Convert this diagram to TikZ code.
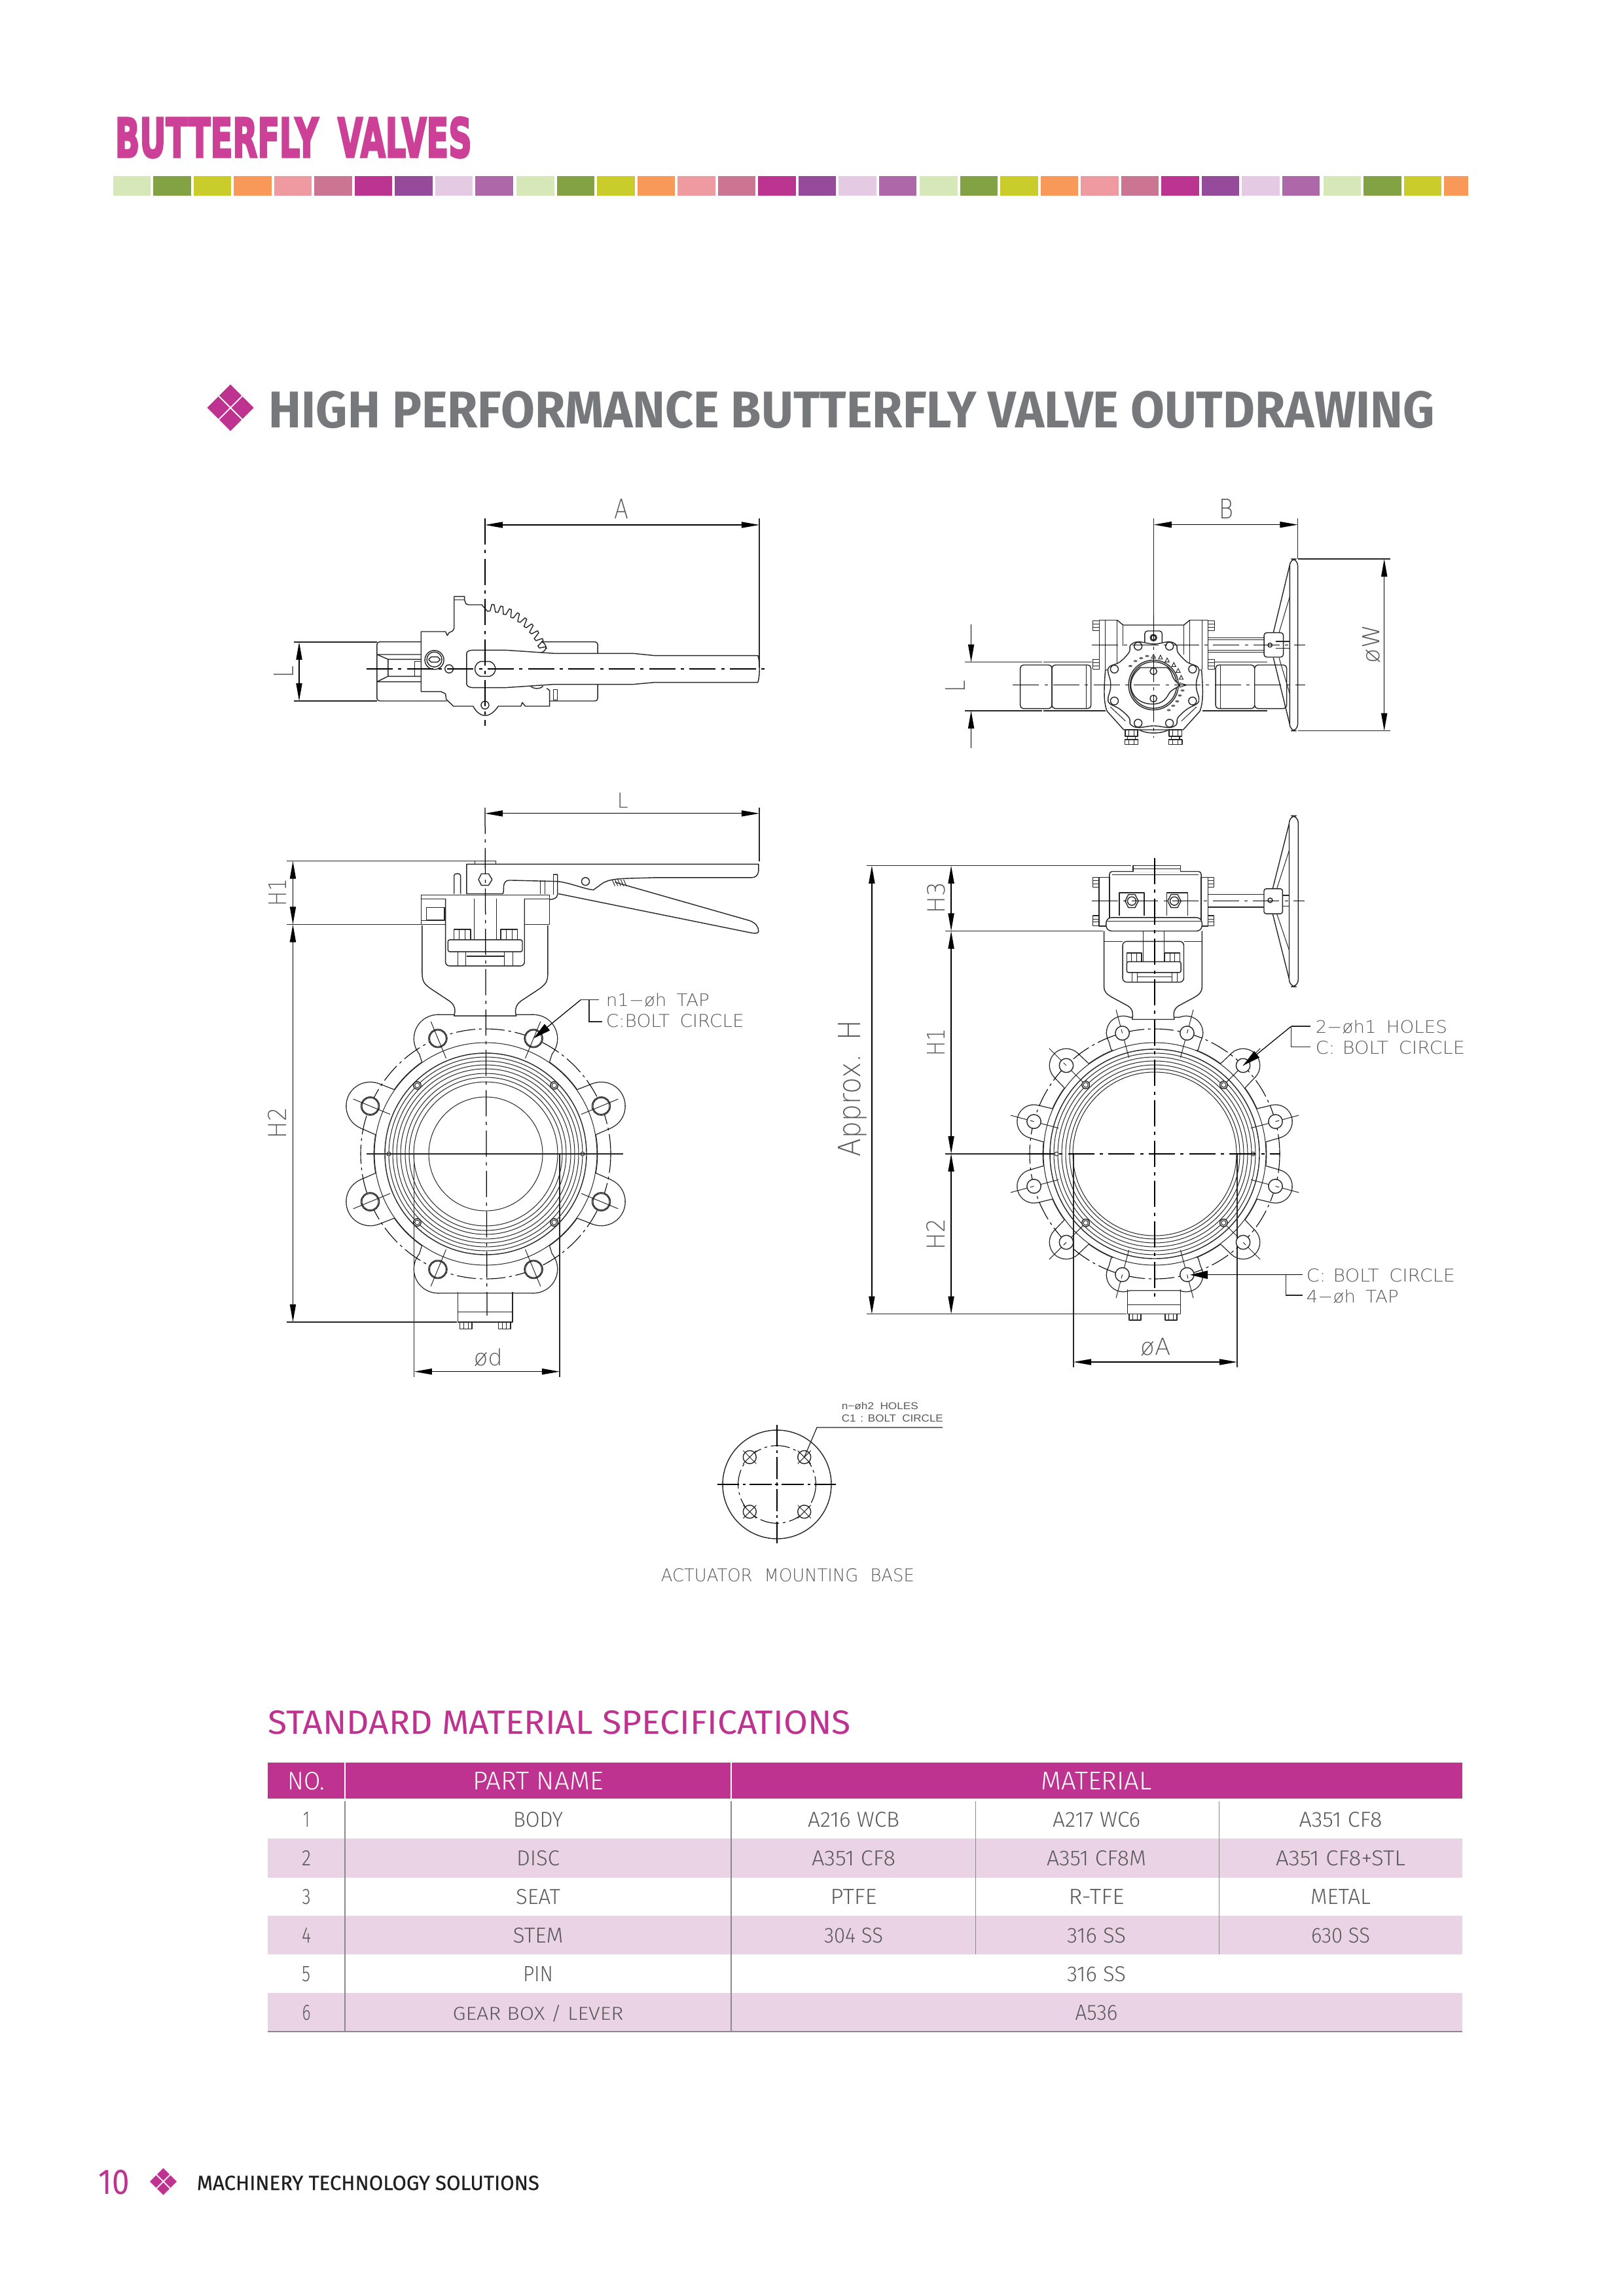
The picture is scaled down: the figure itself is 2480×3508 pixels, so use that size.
\documentclass[tikz,border=0pt]{standalone}
\usepackage{fontspec}
\usepackage{graphicx}
\usetikzlibrary{arrows.meta}
\IfFontExistsTF{DejaVu Sans ExtraLight}{\newfontfamily\cadf{DejaVu Sans ExtraLight}}{\newfontfamily\cadf{Liberation Sans}}
\IfFontExistsTF{Fira Sans Light}{\newfontfamily\tabf{Fira Sans Light}}{\newfontfamily\tabf{Fira Sans}}
\newfontfamily\dinf{Fira Sans}
\newfontfamily\dinm[FakeBold=0.5]{Fira Sans}
\newfontfamily\impf[FakeBold=4]{DejaVu Sans Bold}
\newfontfamily\smallf{Liberation Sans}
\newlength{\pxu}\setlength{\pxu}{0.24pt}
\newcommand{\fitbox}[3]{\resizebox{#1\pxu}{#2\pxu}{#3}}
\definecolor{magB}{HTML}{BF3390}
\definecolor{magT}{HTML}{CC4097}
\definecolor{pinkR}{HTML}{EBD3E6}
\definecolor{headG}{HTML}{77787B}
\definecolor{cadG}{HTML}{58595B}
\definecolor{tabG}{HTML}{58595B}
\definecolor{ruleG}{HTML}{8A8A8D}
\definecolor{lineK}{HTML}{262626}
\definecolor{c0}{HTML}{D6E7B8}\definecolor{c1}{HTML}{82A244}\definecolor{c2}{HTML}{C9CC2B}
\definecolor{c3}{HTML}{F8995A}\definecolor{c4}{HTML}{EE9AA0}\definecolor{c5}{HTML}{CC7592}
\definecolor{c6}{HTML}{BB3490}\definecolor{c7}{HTML}{964A9A}\definecolor{c8}{HTML}{E4CAE2}\definecolor{c9}{HTML}{AE67A9}
\tikzset{
 lnm/.style={line width=.34pt,draw=lineK,line join=round},
 lnt/.style={line width=.24pt,draw=lineK},
 wfill/.style={lnm,fill=white},
 cline/.style={line width=.3pt,draw=black,dash pattern=on 9.6pt off 2pt on 1.2pt off 2pt},
 bcirc/.style={line width=.26pt,draw=black,dash pattern=on 7pt off 1.4pt on 1pt off 1.4pt},
 dimln/.style={line width=.3pt,draw=black,fill=black,<->,>={Triangle[length=6.5pt,width=2.2pt]}},
 onearr/.style={line width=.3pt,draw=black,->,>={Triangle[length=6.5pt,width=2.2pt]}},
 leadarr/.style={line width=.3pt,draw=black,->,>={Triangle[length=6.5pt,width=3pt]}},
 extln/.style={line width=.3pt,draw=lineK},
 cad/.style={inner sep=0pt,text=cadG,anchor=base west},
 cadr/.style={inner sep=0pt,text=cadG,anchor=base west,rotate=90},
 tabt/.style={inner sep=0pt,text=tabG,anchor=base},
 strokeU/.style={draw=lineK,line width=.64pt},
 fillU/.style={fill=white},
}
\newcommand{\hole}[3]{\draw[lnm] (#1,#2) circle[x radius=#3*\sx,y radius=#3*\sy];}
\newcommand{\diamonds}[4]{%
 \foreach \dx/\dy in {0/-1,1/0,0/1,-1/0}{%
  \fill[#4] ({#1+\dx*#3},{#2+\dy*#3}) +(0,{-#3+1.5}) -- +({#3-1.5},0) -- +(0,{#3-1.5}) -- +({-#3+1.5},0) -- cycle;}}
\begin{document}
\begin{tikzpicture}[x=0.24pt,y=-0.24pt]
\useasboundingbox (0,0) rectangle (2480,3508);
\fill[white] (0,0) rectangle (2480,3508);

%% ===== page header
\node[inner sep=0pt,anchor=base west,text=magT] (title) at (175,240) {\fitbox{545}{61}{\impf BUTTERFLY\hspace{.6em}VALVES}};
\foreach \g/\gx/\nn in {0/172.7/9,1/789/9,2/1405.3/9}{
 \foreach \i in {0,...,\nn}{\fill[c\i] ({\gx+\i*61.5},269) rectangle ++(57.5,30);}}
\foreach \i in {0,1,2}{\fill[c\i] ({2021.6+\i*61.5},269) rectangle ++(57.5,30);}
\fill[c3] (2206,269) rectangle (2243,299);
\diamonds{352}{623}{18.5}{magB}
\node[inner sep=0pt,anchor=base west,text=headG] (heading) at (410,654) {\fitbox{1781}{56}{\dinf\bfseries HIGH PERFORMANCE BUTTERFLY VALVE OUTDRAWING}};

%% ===== lever view, top left
\begin{scope}[shift={(380,740)},xscale=.5485,yscale=.3333]
\def\sx{1.823}\def\sy{3}
\draw[lnm,rounded corners=1pt] (357,722) rectangle (972,993);
\draw[lnm] (357,780)--(480,780) (357,905)--(480,905) (388,802)--(480,802) (388,880)--(480,880) (388,802)--(388,880) (357,780)--(388,802) (357,905)--(388,880);
\draw[lnt] (463,812) rectangle (480,880);
\fill[white] (480,675)--(548,675)--(553,693)--(558,680)--(570,672)--(572,514)--(601,514)--(605,550)--(650,552)--(815,720)--(835,775)--(835,935)--(838,1017)--(570,1017)--(550,990)--(548,960)--(535,950)--(480,950)--cycle;
\draw[lnm] (650,552)--(612,552)--(605,548)--(601,530)--(601,514)--(572,514)--(572,530)--(572,660)--(568,672)--(558,680)--(553,693)--(548,675)--(480,675)--(480,950)--(535,950)--(548,960)--(550,985)--(570,1017)--(625,1017) .. controls (635,1050) and (650,1060) .. (658,1060) .. controls (668,1060) and (682,1050) .. (695,1017)--(758,1017)--(762,1000)--(770,1017)--(838,1017)--(838,945)--(830,935);
\draw[lnt] (572,530)--(601,530);
\draw[lnt] (848,940) rectangle (860,990);
\draw[lnm] (815,720) .. controls (832,735) and (832,760) .. (815,772);
\draw[lnm] (785,925) .. controls (795,940) and (810,940) .. (820,925);
\end{scope}
\draw[lnm] (736,924) \foreach \a in {90,82,...,26} { -- ({741+88*cos(\a-2.5)},{1022-88*sin(\a-2.5)}) -- ({741+89*cos(\a-5)},{1022-89*sin(\a-5)}) -- ({741+99*cos(\a-6)},{1022-99*sin(\a-6)}) -- ({741+99*cos(\a-8)},{1022-99*sin(\a-8)}) };
\begin{scope}[shift={(380,740)},xscale=.5485,yscale=.3333]
\def\sx{1.823}\def\sy{3}
\draw[wfill] (607,775) .. controls (607,765) and (615,760) .. (625,760) -- (715,760) -- (850,775) -- (1070,775) -- (1130,785) -- (1418,785) .. controls (1424,810) and (1424,880) .. (1418,908) -- (1130,908) -- (1070,917) -- (850,917) -- (715,932) -- (625,932) .. controls (615,932) and (607,925) .. (607,915) -- cycle;
\hole{517}{805}{14.5}\hole{517}{803}{11.5}
\draw[lnm] (508,791)--(526,791)--(533,803)--(526,815)--(508,815)--(501,803)--cycle;
\hole{558}{846}{6.3}
\draw[lnm] (645,812)--(672,812) .. controls (692,825) and (692,868) .. (672,880)--(645,880) .. controls (625,868) and (625,825) .. (645,812);
\hole{658}{1012}{6}
\end{scope}
\coordinate (aL) at (741,802); \coordinate (aR) at (1160,802);
\draw[cline] (741,792) -- (741,1109);
\draw[cline] (560,1022) -- (1176,1022);
\draw[extln] (1160,792) -- (1160,1020);
\draw[dimln] (aL) -- (aR);
\draw[extln] (449,981) -- (576,981) (449,1071) -- (576,1071);
\coordinate (lA) at (457,981); \coordinate (lB) at (457,1071);
\draw[dimln] (lA) -- (lB);
\node[cad] (labA) at (938,793) {\fitbox{22}{30}{\cadf A}};
\node[cadr] (labL1) at (448,1036) {\fitbox{18}{30}{\cadf L}};

%% ===== gear view, top right
\begin{scope}[shift={(1380,740)},xscale=.5102,yscale=.3333]
\def\sx{1.96}\def\sy{3}
% pipes
\draw[lnm] (420,815)--(565,815) (420,1038)--(605,1038);
\draw[lnm] (912,815)--(1090,815) (895,1038)--(1090,1038);
\draw[extln] (185,815)--(415,815) (185,1038)--(415,1038);
\draw[wfill,rounded corners=1.2pt] (350,828) rectangle (445,1028);
\draw[wfill,rounded corners=1.2pt] (445,828) rectangle (562,1028);
\draw[lnt] (548,828)--(548,1028);
\draw[wfill,rounded corners=1.2pt] (935,828) rectangle (1052,1028);
\draw[wfill,rounded corners=1.2pt] (1052,828) rectangle (1148,1028);
\draw[lnt] (950,828)--(950,1028);
% shaft & hub
\draw[lnm] (912,703)--(1080,703) (912,770)--(1080,770);
\draw[lnt] (912,712)--(1080,712) (912,760)--(1080,760);
\draw[wfill,rounded corners=1pt] (1080,680) rectangle (1138,792);
\hole{1098}{737}{3.2}
\draw[lnm] (1115,720)--(1157,720) (1115,752)--(1157,752);
% wheel
\draw[lnm] (1157,370)--(1108,680) (1108,795)--(1157,1100);
\draw[lnt] (1157,515)--(1125,680) (1125,795)--(1157,960);
\draw[wfill,rounded corners=2.4pt] (1157,342) rectangle (1181,1130);
% gearbox body
\draw[wfill] (605,850) .. controls (600,950) and (600,1000) .. (610,1040) -- (660,1125) -- (838,1125) -- (888,1040) .. controls (898,1000) and (898,950) .. (893,850) -- cycle;
\draw[lnt] (620,1020)--(665,1085) (878,1020)--(833,1085);
\draw[lnm] (705,1125) .. controls (730,1145) and (770,1145) .. (795,1125);
\draw[lnm] (640,622)--(658,645)--(840,645)--(858,622);
\draw[lnm] (658,645)--(658,740) (840,645)--(840,780);
\foreach \xa/\xb/\xc in {587/640/605,858/912/895}{
 \draw[wfill] (\xa,850)--(\xa,622)--(\xb,622)--(\xb,850);
 \draw[lnt] (\xc,622)--(\xc,850);}
\foreach \yy in {648,825}{
 \draw[wfill] (567,{\yy-23}) rectangle (587,{\yy+23});
 \draw[lnt] (567,{\yy-8})--(587,{\yy-8}) (567,{\yy+8})--(587,{\yy+8});
 \draw[wfill] (912,{\yy-23}) rectangle (932,{\yy+23});
 \draw[lnt] (912,{\yy-8})--(932,{\yy-8}) (912,{\yy+8})--(932,{\yy+8});}
\draw[wfill,rounded corners=1pt] (723,725)--(723,672)--(775,672)--(775,725);
\hole{749}{703}{5}\hole{749}{703}{3.5}
% face plate
\draw[wfill] plot[smooth cycle,tension=.6] coordinates {(703,722)(750,732)(797,722)(818,738)(822,770)(850,815)(880,835)(885,860)(878,900)(878,940)(885,980)(880,1005)(850,1030)(822,1070)(818,1100)(797,1115)(750,1107)(703,1115)(680,1100)(676,1070)(648,1030)(618,1005)(613,980)(620,940)(620,900)(613,860)(618,835)(648,815)(676,770)(680,738)};
\foreach \hx/\hy in {703/742,797/742,632/847,866/847,632/993,866/993,703/1095,797/1095}{\hole{\hx}{\hy}{6}}
\hole{749}{920}{38}\hole{749}{920}{35.5}
\draw[wfill] (825,915) .. controls (800,890) and (810,865) .. (790,840) -- (710,840) .. controls (660,900) and (680,990) .. (730,1005) .. controls (770,1015) and (785,990) .. (795,960) .. controls (800,945) and (815,935) .. (825,925) -- cycle;
\hole{749}{857}{5.2}\hole{749}{982}{5.2}
\foreach \tx/\ty in {749/788,770/792,790/805,810/826,823/853,832/885}{\draw[lnt] ({\tx-6},{\ty+9})--(\tx,{\ty-9})--({\tx+6},{\ty+9})--cycle;}
\draw[lnt,fill=white] (828,910)--(848,920)--(828,930)--cycle;
\foreach \tx/\ty in {680/833,695/810,712/797,730/787,836/945,828/968,820/995,808/1015,795/1035}{\fill[black!60] (\tx,\ty) circle[x radius=6,y radius=5];}
% bottom bolts
\foreach \bx in {683,815}{
 \draw[wfill] ({\bx-19},1125) rectangle ({\bx+19},1155);
 \draw[wfill] ({\bx-12},1155) rectangle ({\bx+12},1170);
 \draw[wfill] ({\bx-20},1170) rectangle ({\bx+20},1192);
 \draw[lnt] ({\bx-8},1170)--({\bx-8},1192) ({\bx+8},1170)--({\bx+8},1192) ({\bx-8},1125)--({\bx-8},1155) ({\bx+8},1125)--({\bx+8},1155);}
% centre lines
\draw[cline] (565,736)--(1203,736);
\draw[cline] (328,920)--(1203,920);
\draw[extln] (750,155)--(750,600);
\draw[cline] (750,600)--(750,1160);
\draw[extln] (1181,155)--(1181,342);
\draw[extln] (1181,342)--(1458,342) (1181,1130)--(1458,1130);
\coordinate (gwA) at (1440,342);\coordinate (gwB) at (1440,1130);
\coordinate (gbL) at (750,185);\coordinate (gbR) at (1181,185);
\coordinate (glA0) at (203,643);\coordinate (glA1) at (203,815);\coordinate (glB0) at (203,1210);\coordinate (glB1) at (203,1038);
\end{scope}
\draw[dimln] (gbL)--(gbR);
\draw[dimln] (gwA)--(gwB);
\draw[onearr] (glA0)--(glA1);
\draw[onearr] (glB0)--(glB1);
\node[cad] (labB) at (1862,793) {\fitbox{22}{30}{\cadf B}};
\node[cadr] (labW) at (2107,1014) {\fitbox{58}{26}{\cadf øW}};
\node[cadr] (labL2) at (1474,1058) {\fitbox{18}{30}{\cadf L}};

%% ===== lower left valve
\begin{scope}[shift={(742,1763)}]
\foreach \st in {strokeU,fillU}{
 \path[\st] (0,0) circle (170);
 \foreach \a in {22.5,-22.5,157.5,-157.5}{
  \begin{scope}[rotate=\a]
  \path[\st] (191,0) circle (36);
  \path[\st] (150,37)--(191,36)--(191,-36)--(150,-37)--cycle;
  \end{scope}}
 \foreach \s in {1,-1}{
  \path[\st] (73,{\s*176}) circle (36);
  \path[\st] (-73,{\s*176}) circle (36);
  \path[\st] (-73,{\s*212})--(73,{\s*212})--(108,{\s*176})--(96,{\s*138})--(0,{\s*100})--(-96,{\s*138})--(-108,{\s*176})--cycle;}
}
\draw[lnt] (0,0) circle (170);
\end{scope}
\begin{scope}[shift={(380,1200)},xscale=.5485,yscale=.5869]
\def\sx{1.823}\def\sy{1.704}
% neck and yoke
\draw[wfill] (483,365)--(483,490) .. controls (483,515) and (495,520) .. (505,528) -- (560,562) .. controls (578,575) and (575,590) .. (572,600) -- (745,600) .. controls (742,590) and (740,575) .. (757,562) -- (812,528) .. controls (822,520) and (833,515) .. (833,490) -- (833,365);
\draw[wfill] (480,285) rectangle (838,362);
\draw[lnt] (480,295)--(838,295) (480,352)--(548,352);
\draw[wfill] (495,318) rectangle (545,350);
\draw[wfill,rounded corners=1.5pt] (548,295)--(548,470)--(768,470)--(768,295);
\draw[lnt] (628,295)--(628,402) (690,295)--(690,402);
\foreach \bx in {595,725}{
 \draw[wfill] ({\bx-23},375) rectangle ({\bx+23},402);
 \draw[lnt] ({\bx-8},375)--({\bx-8},402) ({\bx+8},375)--({\bx+8},402);}
\draw[wfill,rounded corners=.6pt] (555,402) rectangle (762,433);
\draw[lnt] (582,433)--(582,468) (605,433)--(605,468) (712,433)--(712,468) (735,433)--(735,468);
\draw[lnm] (608,445)--(712,445);
% lever
\draw[lnm,rounded corners=.8pt] (572,282)--(572,240) .. controls (572,228) and (590,228) .. (590,240) -- (590,282);
\draw[wfill] (607,282)--(607,205)--(1420,205)--(1420,222) .. controls (1418,235) and (1412,240) .. (1400,240) -- (1130,240) .. controls (1050,243) and (1010,240) .. (985,255) -- (960,272) .. controls (935,270) and (900,255) .. (862,250) -- (730,247) .. controls (722,247) and (716,247) .. (712,255) .. controls (708,262) and (712,270) .. (708,282) -- cycle;
\draw[lnm] (862,282) -- (1395,383) .. controls (1408,386) and (1420,386) .. (1420,380) .. controls (1420,368) and (1412,358) .. (1395,352) -- (1020,252);
\draw[lnm] (848,232)--(860,232)--(860,285) .. controls (858,293) and (850,297) .. (838,297);
\draw[lnt] (848,232)--(848,285);
\draw[lnt] (812,247)--(812,282) (825,247)--(825,282);
\draw[lnm] (640,245)--(648,230)--(668,230)--(678,245)--(668,260)--(648,260)--cycle;
\draw[lnt] (630,205)--(630,197)--(688,197)--(688,205) (630,197)--(625,197);
\hole{938}{250}{6}
\foreach \tt in {0,1,2,3,4}{\draw[lnt] ({1012+\tt*8},245)--({1020+\tt*8},262);}
% bottom block
\draw[lnm] (582,1318)--(582,1397)--(735,1397)--(735,1318);
\draw[lnt] (582,1370)--(735,1370);
\foreach \bx in {605,712}{\draw[wfill] ({\bx-17},1397) rectangle ({\bx+17},1415);
 \draw[lnt] ({\bx-6},1397)--({\bx-6},1415) ({\bx+6},1397)--({\bx+6},1415);}
\end{scope}
\begin{scope}[shift={(742,1763)}]
\draw[bcirc] (0,0) circle (191);
\draw[lnm] (0,0) circle (154);
\foreach \r in {148,142,136,130,123,117,110}{\draw[lnt] (0,0) circle (\r);}
\draw[lnt] (0,0) circle (87);
\foreach \a in {22.5,67.5,112.5,157.5,202.5,247.5,292.5,337.5}{
 \draw[lnm,fill=white] ({191*cos(\a)},{191*sin(\a)}) circle (14);
 \draw[lnt] ({191*cos(\a)},{191*sin(\a)}) circle (12.5);
 \draw[lnt] ({158*cos(\a)},{158*sin(\a)})--({219*cos(\a)},{219*sin(\a)});}
\foreach \a in {45,135,225,315}{
 \draw[lnm,fill=white] ({148*cos(\a)},{148*sin(\a)}) circle (5.8);
 \draw[lnt] ({148*cos(\a)},{148*sin(\a)}) circle (3.6);}
\foreach \a in {0,180}{\draw[lnt,fill=white] ({148*cos(\a)},{148*sin(\a)}) circle (3);}
\coordinate (holeTR) at ({191*cos(67.5)},{-191*sin(67.5)});
\end{scope}
\draw[extln] (560,1763)--(952,1763);
\draw[cline] (741,1234)--(744,2010);
% dims lower left
\begin{scope}[shift={(380,1200)},xscale=.5485,yscale=.5869]
\coordinate (ldA) at (123,197);\coordinate (ldB) at (123,362);\coordinate (ldC) at (123,1397);
\coordinate (llA) at (658,73);\coordinate (llB) at (1422,73);
\coordinate (ddA) at (461,1526);\coordinate (ddB) at (866,1526);
\coordinate (ldr1) at (925,558);\coordinate (ldr2) at (975,558);\coordinate (ldr3) at (948,558);\coordinate (ldr4) at (948,615);\coordinate (ldr5) at (985,615);
\draw[extln] (105,197)--(625,197) (105,362)--(480,362) (105,1397)--(580,1397);
\draw[extln] (1422,58)--(1422,197);
\draw[extln] (461,960)--(461,1540) (866,960)--(866,1540);
\end{scope}
\draw[dimln] (ldA)--(ldB);
\draw[dimln] (ldB)--(ldC);
\draw[dimln] (llA)--(llB);
\draw[dimln] (ddA)--(ddB);
\draw[leadarr] (ldr1)--(holeTR);
\draw[extln] (ldr1)--(ldr2) (ldr3)--(ldr4)--(ldr5);
\node[cadr] (labH1a) at (437,1385) {\fitbox{41}{27}{\cadf H1}};
\node[cadr] (labH2a) at (437,1740) {\fitbox{47}{28}{\cadf H2}};
\node[cad] (labL3) at (942,1234) {\fitbox{17}{23}{\cadf L}};
\node[cad] (labd) at (723,2086) {\fitbox{44}{26}{\cadf ød}};
\node[cad] (labn1) at (925,1537) {\fitbox{158}{20}{\cadf n1−øh\hspace{.55em}TAP}};
\node[cad] (labc1) at (925,1569) {\fitbox{211}{20}{\cadf C:BOLT\hspace{.55em}CIRCLE}};

%% ===== lower right valve
\begin{scope}[shift={(1764,1763)}]
\foreach \st in {strokeU,fillU}{
 \path[\st] (0,0) circle (170);
 \foreach \a in {15,45,135,165,195,225,315,345}{
  \begin{scope}[rotate=\a]
  \path[\st] (191,0) circle (25);
  \path[\st] (150,26)--(191,25)--(191,-25)--(150,-26)--cycle;
  \end{scope}}
 \foreach \s in {1,-1}{
  \path[\st] (48,{\s*185}) circle (25);
  \path[\st] (-48,{\s*185}) circle (25);
  \path[\st] (-48,{\s*208})--(48,{\s*208})--(73,{\s*185})--(66,{\s*160})--(0,{\s*120})--(-66,{\s*160})--(-73,{\s*185})--cycle;}
}
\draw[lnt] (0,0) circle (170);
\end{scope}
\begin{scope}[shift={(1270,1220)},xscale=.6313,yscale=.5869]
\def\sx{1.584}\def\sy{1.704}
% neck
\draw[wfill] (660,345)--(660,490) .. controls (660,505) and (668,510) .. (680,518) -- (718,540) .. controls (732,550) and (730,565) .. (728,575) -- (830,575) .. controls (828,565) and (826,550) .. (840,540) -- (878,518) .. controls (890,510) and (897,505) .. (897,490) -- (897,345);
\draw[lnt] (660,372)--(705,372) (853,372)--(897,372);
\draw[wfill,rounded corners=1.5pt] (705,372)--(705,478)--(853,478)--(853,372)--cycle;
\draw[lnt] (755,345)--(755,425) (805,345)--(805,425);
\foreach \bx in {733,825}{
 \draw[wfill] ({\bx-18},402) rectangle ({\bx+18},425);
 \draw[lnt] ({\bx-6},402)--({\bx-6},425) ({\bx+6},402)--({\bx+6},425);}
\draw[wfill,rounded corners=.6pt] (715,425) rectangle (846,453);
\draw[lnt] (728,453)--(728,478) (740,453)--(740,478) (825,453)--(825,478) (837,453)--(837,478) (740,465)--(825,465);
% gearbox
\draw[wfill,rounded corners=1pt] (673,310)--(673,190)--(895,190)--(895,310);
\draw[lnt] (680,198)--(888,198);
\draw[wfill] (730,190)--(730,175)--(845,175)--(845,190);
\draw[lnt] (730,183)--(845,183);
\draw[wfill] (648,205) rectangle (673,332);
\draw[wfill] (895,205) rectangle (912,332);
\foreach \yy in {218,318}{
 \draw[wfill] (633,{\yy-13}) rectangle (648,{\yy+13});
 \draw[wfill] (912,{\yy-13}) rectangle (926,{\yy+13});
 \draw[lnt] (633,{\yy-4})--(648,{\yy-4}) (633,{\yy+4})--(648,{\yy+4}) (912,{\yy-4})--(926,{\yy-4}) (912,{\yy+4})--(926,{\yy+4});}
\draw[wfill,rounded corners=2pt] (665,345)--(665,310)--(897,310)--(897,345)--cycle;
\draw[lnt] (665,320)--(897,320);
\draw[lnm] (697,305)--(697,245)--(757,245)--(757,305) (812,305)--(812,245)--(862,245)--(862,305);
\foreach \bx in {727,830}{
 \draw[lnm] ({\bx-16},267)--({\bx-8},250)--({\bx+8},250)--({\bx+16},267)--({\bx+8},284)--({\bx-8},284)--cycle;
 \hole{\bx}{267}{6.5}}
% shaft, hub, wheel
\draw[lnm] (912,250)--(1047,250) (912,283)--(1047,283);
\draw[wfill,rounded corners=.8pt] (1047,235) rectangle (1092,300);
\hole{1062}{265}{3.5}
\draw[lnm] (1092,252)--(1110,252) (1092,280)--(1110,280);
\draw[lnm] (1108,65)--(1068,235) (1068,300)--(1108,470);
\draw[lnt] (1108,135)--(1078,235) (1078,300)--(1108,395);
\draw[wfill,rounded corners=2.6pt] (1108,45) rectangle (1130,490);
% bottom
\draw[lnm] (717,1278)--(717,1342)--(845,1342)--(845,1278);
\draw[lnt] (717,1318)--(845,1318);
\foreach \bx in {735,822}{\draw[wfill] ({\bx-14},1342) rectangle ({\bx+14},1358);
 \draw[lnt] ({\bx-5},1342)--({\bx-5},1358) ({\bx+5},1342)--({\bx+5},1358);}
\draw[cline] (630,267)--(1145,267);
% coordinates
\coordinate (rhA) at (98,175);\coordinate (rhB) at (98,1342);
\coordinate (r3A) at (290,175);\coordinate (r3B) at (290,345);\coordinate (r3C) at (290,925);\coordinate (r3D) at (290,1342);
\coordinate (raA) at (586,1467);\coordinate (raB) at (982,1467);
\coordinate (lp1) at (1113,593);\coordinate (lp2) at (1160,593);\coordinate (lp3) at (1113,647);\coordinate (lp4) at (1160,647);
\coordinate (lq0) at (868,1240);\coordinate (lq1) at (1140,1240);\coordinate (lq2) at (1100,1240);\coordinate (lq3) at (1100,1293);\coordinate (lq4) at (1140,1293);
\draw[extln] (85,175)--(725,175) (275,345)--(658,345) (85,1342)--(715,1342);
\draw[extln] (586,925)--(586,1480) (982,925)--(982,1480);
\end{scope}
\begin{scope}[shift={(1764,1763)}]
\draw[bcirc] (0,0) circle (191);
\draw[lnm] (0,0) circle (160);
\foreach \r in {154,148,142,136,130}{\draw[lnt] (0,0) circle (\r);}
\draw[lnt] (0,0) circle (125);
\foreach \a in {15,45,75,105,135,165,195,225,255,285,315,345}{
 \draw[lnt] ({152*cos(\a)},{152*sin(\a)})--({228*cos(\a)},{228*sin(\a)});
 \draw[lnm,fill=white] ({191*cos(\a)},{191*sin(\a)}) circle (10.7);
 \draw[lnt] ({191*cos(\a)},{191*sin(\a)})--({197*cos(\a)},{197*sin(\a)});}
\foreach \a in {45,135,225,315}{
 \draw[lnm,fill=white] ({149*cos(\a)},{149*sin(\a)}) circle (5.8);
 \draw[lnt] ({149*cos(\a)},{149*sin(\a)}) circle (3.6);}
\foreach \a in {0,180}{\draw[lnt,fill=white] ({150*cos(\a)},{150*sin(\a)}) circle (3);}
\coordinate (holeR45) at ({191*cos(45)},{-191*sin(45)});
\end{scope}
\draw[extln] (1444,1763)--(1570,1763);
\draw[cline] (1570,1763)--(1956,1763);
\draw[cline] (1764,1311)--(1764,1985);
\draw[dimln] (rhA)--(rhB);
\draw[dimln] (r3A)--(r3B);
\draw[dimln] (r3B)--(r3C);
\draw[dimln] (r3C)--(r3D);
\draw[dimln] (raA)--(raB);
\draw[leadarr] (lp1)--(holeR45);
\draw[extln] (lp1)--(lp2) (lp1)--(lp3)--(lp4);
\draw[leadarr] (lq1)--(lq0);
\draw[extln] (lq2)--(lq3)--(lq4);
\node[cadr] (labApprox) at (1314,1768) {\fitbox{208}{34}{\cadf Approx.\hspace{.5em}H}};
\node[cadr] (labH3) at (1443,1396) {\fitbox{47}{27}{\cadf H3}};
\node[cadr] (labH1b) at (1443,1614) {\fitbox{41}{27}{\cadf H1}};
\node[cadr] (labH2b) at (1443,1910) {\fitbox{47}{28}{\cadf H2}};
\node[cad] (labphiA) at (1742,2070) {\fitbox{46}{26}{\cadf øA}};
\node[cad] (lab2h) at (2009,1578) {\fitbox{201}{20}{\cadf 2−øh1\hspace{.55em}HOLES}};
\node[cad] (labc2) at (2009,1610) {\fitbox{228}{20}{\cadf C:\hspace{.4em}BOLT\hspace{.55em}CIRCLE}};
\node[cad] (labc3) at (1995,1958) {\fitbox{227}{20}{\cadf C:\hspace{.4em}BOLT\hspace{.55em}CIRCLE}};
\node[cad] (lab4h) at (1995,1990) {\fitbox{141}{20}{\cadf 4−øh\hspace{.55em}TAP}};

%% ===== actuator base
\begin{scope}[shift={(1187,2268)}]
\draw[lnm] (0,0) circle (83);
\draw[bcirc] (0,0) circle (59.3);
\foreach \hx/\hy in {-41.7/-41.7,41.7/-41.7,-41.7/41.7,41.7/41.7}{
 \draw[lnm,fill=white] (\hx,\hy) circle (10);
 \draw[lnt] ({\hx-10},{\hy+10})--({\hx+10},{\hy-10}) ({\hx-10},{\hy-10})--({\hx+10},{\hy+10});}
\coordinate (baseH) at (41.7,-41.7);
\draw[cline,dash pattern=on 8pt off 1.4pt on 1pt off 1.4pt] (-91,0)--(91,0);
\draw[cline,dash pattern=on 8pt off 1.4pt on 1pt off 1.4pt] (0,-91)--(0,91);
\end{scope}
\coordinate (baseK) at (1248,2181);\coordinate (baseE) at (1440,2181);
\draw[extln] (baseH)--(baseK)--(baseE);
\node[cad] (labn2) at (1285,2153) {\fitbox{117}{11}{\smallf n−øh2\hspace{.55em}HOLES}};
\node[cad] (labc4) at (1285,2172) {\fitbox{155}{11}{\smallf C1\hspace{.4em}:\hspace{.4em}BOLT\hspace{.55em}CIRCLE}};
\node[cad] (labbase) at (1009,2416) {\fitbox{387}{20}{\cadf ACTUATOR\hspace{.7em}MOUNTING\hspace{.7em}BASE}};

%% ===== table
\node[inner sep=0pt,anchor=base west,text=magB] (subhead) at (409,2649) {\fitbox{890}{36}{\dinf STANDARD MATERIAL SPECIFICATIONS}};
\fill[magB] (409,2693) rectangle (2234,2748);
\draw[white,line width=.3pt] (527,2693)--(527,2748) (1117,2693)--(1117,2748);
\foreach \ya/\yb in {2809/2869,2927/2986,3045/3104}{\fill[pinkR] (409,\ya) rectangle (2234,\yb);}
\draw[ruleG,line width=.25pt] (527,2752)--(527,3104) (1117,2752)--(1117,3104) (1490,2752)--(1490,2986) (1862,2752)--(1862,2986);
\draw[ruleG,line width=.6pt] (409,3104)--(2234,3104);
\foreach \nm/\cx/\ww/\tx in {hNo/468/57/NO.,hPart/822/200/PART NAME,hMat/1675/169/MATERIAL}{
 \node[tabt,text=white] (\nm) at (\cx,2734) {\fitbox{\ww}{27}{\tabf\tx}};}
\foreach \nm/\cx/\by/\ww/\tx in {
 a1/468/2791/10/1,a2/822/2791/76/BODY,a3/1304/2791/140/A216 WCB,a4/1675/2791/134/A217 WC6,a5/2048/2791/127/A351 CF8,
 b1/468/2850/14/2,b2/822/2850/66/DISC,b3/1304/2850/128/A351 CF8,b4/1675/2850/152/A351 CF8M,b5/2048/2850/198/A351 CF8+STL,
 c1/468/2909/13/3,c2/822/2909/68/SEAT,c3/1304/2909/71/PTFE,c4/1675/2909/85/R-TFE,c5/2048/2909/92/METAL,
 d1/468/2968/14/4,d2/822/2968/77/STEM,d3/1304/2968/90/304 SS,d4/1675/2968/90/316 SS,d5/2048/2968/90/630 SS,
 e1/468/3027/13/5,e2/822/3027/46/PIN,e3/1675/3027/90/316 SS,
 f1/468/3086/13/6,f2/822/3086/261/{GEAR BOX / LEVER},f3/1675/3086/65/A536}{
 \node[tabt] (\nm) at (\cx,\by) {\fitbox{\ww}{23}{\tabf\tx}};}

%% ===== footer
\node[inner sep=0pt,anchor=base west,text=magB] (pageno) at (150,3352) {\fitbox{47}{37}{\dinf 10}};
\diamonds{249.5}{3333}{11}{magB}
\node[inner sep=0pt,anchor=base west,text=black!88] (footer) at (300,3346) {\fitbox{523}{22}{\dinm MACHINERY TECHNOLOGY SOLUTIONS}};
\end{tikzpicture}
\end{document}
